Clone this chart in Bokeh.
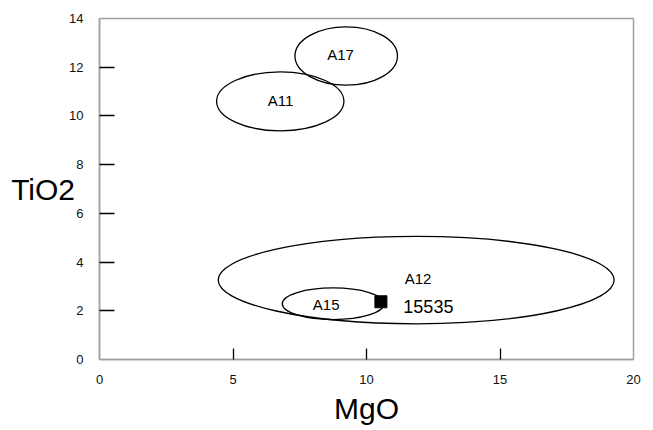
from bokeh.plotting import figure
from bokeh.models import FixedTicker, Range1d
from bokeh.core.properties import value
from bokeh.embed import file_html
from bokeh.resources import INLINE

# Data (MgO vs TiO2 fields)
field_names = ["A17", "A11", "A12", "A15"]
field_x = [9.24, 6.77, 11.86, 8.75]
field_y = [12.46, 10.60, 3.26, 2.29]
field_w = [3.84, 4.77, 14.83, 3.81]
field_h = [2.39, 2.42, 3.59, 1.30]
label_x = [9.03, 6.78, 11.93, 8.49]
label_y = [12.51, 10.62, 3.31, 2.26]

sample_name = ["15535"]
sample_x = [10.54]
sample_y = [2.37]
sample_label_x = [11.38]
sample_label_y = [2.17]

x_ticks = [0, 5, 10, 15, 20]
y_ticks = [0, 2, 4, 6, 8, 10, 12, 14]

FONT = "Liberation Sans"

p = figure(frame_width=534, frame_height=341, output_backend="svg", toolbar_location=None,
           x_range=Range1d(0, 20), y_range=Range1d(0, 14),
           min_border_left=99, min_border_right=12, min_border_top=18, min_border_bottom=60)

p.xgrid.visible = False
p.ygrid.visible = False
p.outline_line_color = "#a0a0a0"
p.outline_line_width = 1.5
p.background_fill_color = "white"
p.border_fill_color = "white"

p.xaxis.ticker = FixedTicker(ticks=x_ticks, minor_ticks=x_ticks[1:-1])
p.yaxis.ticker = FixedTicker(ticks=y_ticks, minor_ticks=y_ticks[1:-1])
for ax, tin in ((p.xaxis, 11), (p.yaxis, 15)):
    ax.axis_line_color = "#a0a0a0"
    ax.axis_line_width = 1.5
    ax.major_tick_line_color = None
    ax.minor_tick_line_color = "black"
    ax.minor_tick_line_width = 1.3
    ax.minor_tick_in = tin
    ax.minor_tick_out = 0
    ax.major_label_text_font = FONT
    ax.major_label_text_font_size = "13px"
    ax.major_label_text_color = "#111111"
    ax.axis_label_text_font = FONT
    ax.axis_label_text_font_size = "30px"
    ax.axis_label_text_font_style = "normal"
    ax.axis_label_text_color = "black"

p.xaxis.major_label_standoff = 9
p.yaxis.major_label_standoff = 10
p.xaxis.axis_label = "MgO"
p.xaxis.axis_label_standoff = 5
p.yaxis.axis_label = "TiO2"
p.yaxis.axis_label_orientation = "horizontal"
p.yaxis.axis_label_standoff = -9

p.ellipse(x=field_x, y=field_y, width=field_w, height=field_h,
          fill_color=None, line_color="black", line_width=1.3)

p.text(x=label_x, y=label_y, text=field_names, text_font=value(FONT),
       text_font_size="15px", text_align="center", text_baseline="middle",
       text_color="black")

p.scatter(x=sample_x, y=sample_y, marker="square", size=12,
          fill_color="black", line_color="black")
p.text(x=sample_label_x, y=sample_label_y, text=sample_name, text_font=value(FONT),
       text_font_size="18px", text_align="left", text_baseline="middle",
       text_color="black")

open("out.html", "w").write(file_html(p, INLINE))
